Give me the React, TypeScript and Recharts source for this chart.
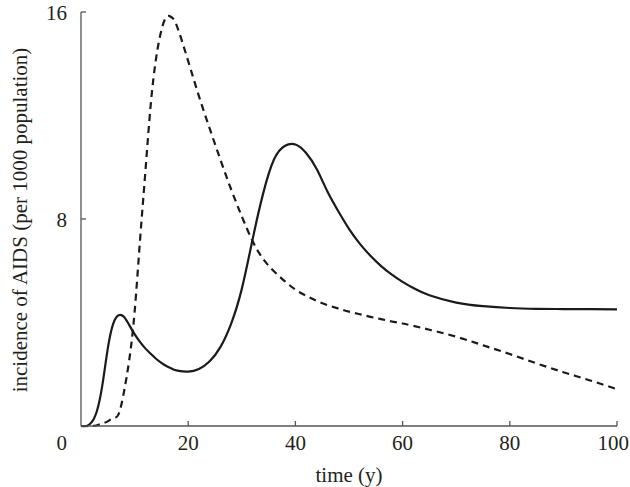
import { Line, LineChart, XAxis, YAxis, Label } from "recharts";

// time (years) and the two incidence curves, per 1000 population
const years = [
  0, 1, 2, 3, 4, 5, 6, 7, 8, 9, 10, 11, 12, 13, 14, 15, 16, 17, 18, 20, 22, 24, 26,
  28, 30, 32, 34, 36, 38, 40, 42, 44, 46, 48, 50, 52, 54, 56, 58, 60, 62, 65, 70, 75,
  80, 85, 90, 95, 100,
];
const solid = [
  0, 0, 0.15, 0.6, 1.6, 3.0, 3.95, 4.28, 4.22, 3.9, 3.55, 3.25, 3.0, 2.79, 2.6, 2.44,
  2.31, 2.21, 2.14, 2.1, 2.2, 2.5, 3.05, 3.95, 5.3, 7.2, 9.0, 10.3, 10.82, 10.88, 10.55,
  9.92, 9.05, 8.3, 7.62, 7.05, 6.58, 6.18, 5.85, 5.57, 5.33, 5.05, 4.77, 4.63, 4.56,
  4.53, 4.52, 4.52, 4.51,
];
const dashed = [
  0, 0, 0, 0.03, 0.1, 0.18, 0.3, 0.45, 1.3, 2.55, 4.4, 7.15, 9.8, 12.4, 14.2, 15.3,
  15.82, 15.78, 15.4, 14.1, 12.75, 11.5, 10.3, 9.15, 8.1, 7.15, 6.45, 5.98, 5.6, 5.27,
  5.03, 4.83, 4.67, 4.54, 4.42, 4.32, 4.22, 4.13, 4.04, 3.96, 3.87, 3.72, 3.45, 3.12,
  2.78, 2.42, 2.08, 1.76, 1.42,
];
const xTicks = [0, 20, 40, 60, 80, 100];
const yTicks = [0, 8, 16];

const data = years.map((t, i) => ({ t, solid: solid[i], dashed: dashed[i] }));

const FONT = '"Liberation Serif", "DejaVu Serif", serif';
const INK = "#231f20";
const AXIS = "#555";

function XTick({ x, y, payload }: any) {
  const v = payload.value;
  if (v === 0) return null;
  const last = v === 100;
  return (
    <g>
      <line x1={x} y1={y} x2={x} y2={y - 5} stroke={AXIS} strokeWidth={1.3} />
      <text
        x={last ? x + 12 : x}
        y={y + 24}
        textAnchor={last ? "end" : "middle"}
        fontSize={21}
        fontFamily={FONT}
        fill={INK}
      >
        {v}
      </text>
    </g>
  );
}

function YTick({ x, y, payload }: any) {
  const v = payload.value;
  return (
    <g>
      {v !== 0 && <line x1={x} y1={y} x2={x + 5} y2={y} stroke={AXIS} strokeWidth={1.3} />}
      <text
        x={x - 14}
        y={v === 0 ? y + 24 : y + 8}
        textAnchor="end"
        fontSize={21}
        fontFamily={FONT}
        fill={INK}
      >
        {v}
      </text>
    </g>
  );
}

export default function App() {
  return (
    <div style={{ position: "absolute", left: 0, top: 0, background: "#fff" }}>
      <LineChart
        width={630}
        height={487}
        data={data}
        margin={{ top: 12, right: 13, bottom: 0, left: 21 }}
      >
        <XAxis
          dataKey="t"
          type="number"
          domain={[0, 100]}
          ticks={xTicks}
          tickSize={0}
          tickMargin={0}
          tickLine={false}
          tick={<XTick />}
          height={61}
          stroke={AXIS}
          strokeWidth={1.3}
          interval={0}
        >
          <Label
            content={() => (
              <text x={349} y={482} textAnchor="middle" fontSize={21} fontFamily={FONT} fill={INK}>
                time (y)
              </text>
            )}
          />
        </XAxis>
        <YAxis
          type="number"
          domain={[0, 16]}
          ticks={yTicks}
          tickSize={0}
          tickMargin={0}
          tickLine={false}
          tick={<YTick />}
          width={60}
          stroke={AXIS}
          strokeWidth={1.3}
          interval={0}
        >
          <Label
            content={() => (
              <text
                x={27}
                y={220}
                transform="rotate(-90 27 220)"
                textAnchor="middle"
                fontSize={21}
                fontFamily={FONT}
                fill={INK}
              >
                incidence of AIDS (per 1000 population)
              </text>
            )}
          />
        </YAxis>
        <Line
          dataKey="dashed"
          type="natural"
          stroke="#1a1a1a"
          strokeWidth={2.2}
          strokeDasharray="7 5"
          dot={false}
          isAnimationActive={false}
        />
        <Line
          dataKey="solid"
          type="natural"
          stroke="#1a1a1a"
          strokeWidth={2.2}
          dot={false}
          isAnimationActive={false}
        />
      </LineChart>
    </div>
  );
}
